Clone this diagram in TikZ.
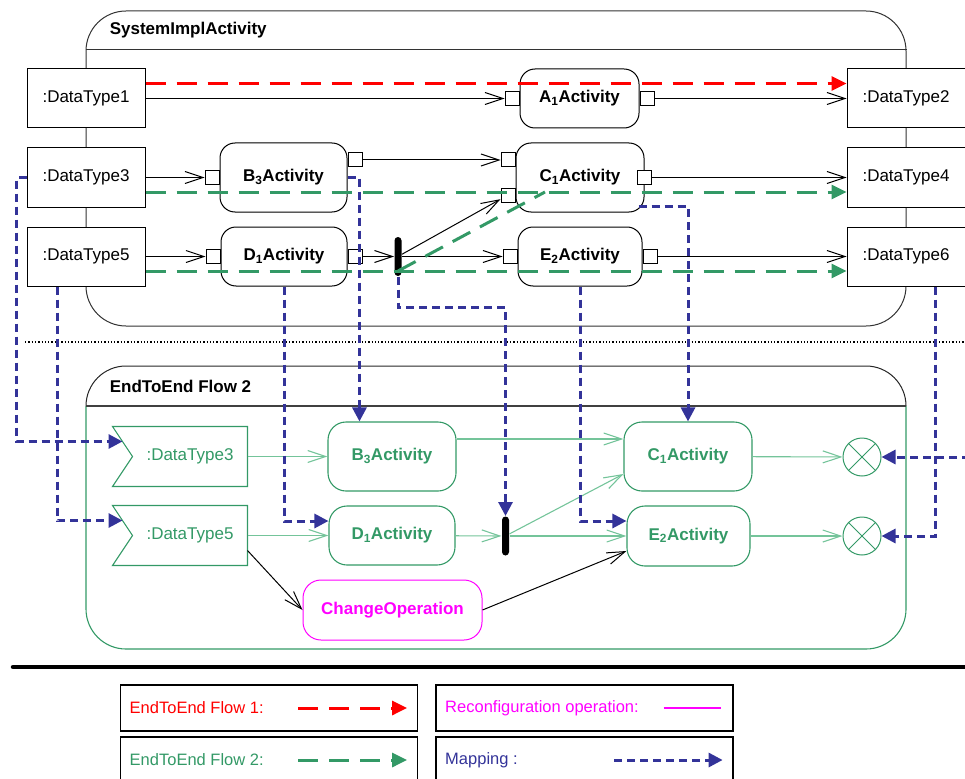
\documentclass[tikz,border=0pt]{standalone}
\usepackage{fontspec}
\setmainfont{Liberation Sans}
\usepackage{tikz}
\usetikzlibrary{arrows.meta,positioning,calc}
\definecolor{flowred}{HTML}{FF0000}
\definecolor{flowgreen}{HTML}{339966}
\definecolor{lightgreen}{HTML}{74C49A}
\definecolor{mapblue}{HTML}{333399}
\definecolor{opmagenta}{HTML}{FF00FF}
\tikzstyle{line} = [draw, -{Straight Barb[length=18pt,width=12pt]}]
\tikzstyle{fline} = [draw=lightgreen, line width=1.1pt, -{Straight Barb[length=18pt,width=12pt]}]
\tikzstyle{flowone} = [draw=flowred, line width=3pt, dash pattern=on 20pt off 11pt, -{Triangle[length=15pt,width=14pt]}]
\tikzstyle{flowtwo} = [draw=flowgreen, line width=3pt, dash pattern=on 20pt off 11pt, -{Triangle[length=15pt,width=14pt]}]
\tikzstyle{map} = [draw=mapblue, line width=3pt, dash pattern=on 8pt off 5pt, -{Triangle[length=14pt,width=14pt]}]
\tikzstyle{dtbox} = [draw, rectangle, fill=white, minimum width=118, minimum height=59]
\tikzstyle{act} = [draw, rectangle, rounded corners=15pt, fill=white, font=\fontsize{17}{20}\selectfont\bfseries]
\tikzstyle{pinbox} = [draw, rectangle, fill=white, minimum size=14, inner sep=0pt]
\tikzstyle{forkbar} = [fill=black, rectangle, rounded corners=3.5pt, minimum width=7, minimum height=39, inner sep=0pt]
\tikzstyle{lact} = [draw=flowgreen, text=flowgreen, rectangle, rounded corners=18pt, line width=1.1pt, font=\fontsize{17}{20}\selectfont\bfseries]
\tikzstyle{ldt} = [text=flowgreen, rectangle, minimum width=134, minimum height=59, inner sep=0pt]
\tikzstyle{final} = [draw=flowgreen, circle, minimum size=38, inner sep=0pt]
\tikzstyle{legbox} = [draw, rectangle, line width=1.2pt, minimum width=297, minimum height=46]
\tikzstyle{legtext} = [anchor=west, font=\fontsize{16.5}{19}\selectfont]

\begin{document}
\begin{tikzpicture}[x=1pt, y=-1pt, line width=1pt, font=\fontsize{17}{20}\selectfont]
    \useasboundingbox (0,0) rectangle (965,778);
    \clip (0,0) rectangle (965,778);

    \node [draw=black!80, rectangle, rounded corners=40pt, minimum width=820, minimum height=315] (sys) at (496,168.5) {};
    \draw [black!80] ([yshift=-39pt]sys.north west) -- ([yshift=-39pt]sys.north east);
    \node [anchor=west, font=\fontsize{17}{20}\selectfont\bfseries] (systitle) at (106,30) {SystemImplActivity};

    \node [dtbox] (dt1) at (86,98.5) {:DataType1};
    \node [dtbox] (dt3) at (86,177.5) {:DataType3};
    \node [dtbox] (dt5) at (86,256.5) {:DataType5};
    \node [dtbox] (dt2) at (906,98.5) {:DataType2};
    \node [dtbox] (dt4) at (906,177.5) {:DataType4};
    \node [dtbox] (dt6) at (906,256.5) {:DataType6};

    \node [act, minimum width=119, minimum height=59] (a1) at (579.5,98.5) {A\textsubscript{1}Activity};
    \node [act, minimum width=127, minimum height=69] (b3) at (283.5,177.5) {B\textsubscript{3}Activity};
    \node [act, minimum width=126, minimum height=59] (d1) at (284,256.5) {D\textsubscript{1}Activity};
    \node [act, minimum width=128, minimum height=69] (c1) at (580,177.5) {C\textsubscript{1}Activity};
    \node [act, minimum width=124, minimum height=59] (e2) at (580,256.5) {E\textsubscript{2}Activity};

    \node [pinbox, left=0pt of a1] (a1i) {};
    \node [pinbox, right=0pt of a1] (a1o) {};
    \node [pinbox, left=0pt of b3] (b3i) {};
    \node [pinbox, anchor=west] (b3o) at ($(b3.east)+(0,-17.5)$) {};
    \node [pinbox, left=0pt of d1] (d1i) {};
    \node [pinbox, right=0pt of d1] (d1o) {};
    \node [pinbox, anchor=east] (c1i1) at ($(c1.west)+(0,-17.5)$) {};
    \node [pinbox, anchor=east] (c1i2) at ($(c1.west)+(0,17.5)$) {};
    \node [pinbox] (c1o) at (c1.east) {};
    \node [pinbox, left=0pt of e2] (e2i) {};
    \node [pinbox, right=0pt of e2] (e2o) {};
    \node [forkbar] (bar1) at (398,256.5) {};

    \path [line] (dt1) -- (a1i);
    \path [line] (a1o) -- (dt2);
    \path [line] (dt3) -- (b3i);
    \path [line] (dt5) -- (d1i);
    \path [line] (b3o) -- (c1i1);
    \path [line] (d1o) -- (bar1);
    \path [line] (bar1) -- (c1i2);
    \path [line] (bar1) -- (e2i);
    \path [line] (c1o) -- (dt4);
    \path [line] (e2o) -- (dt6);

    \path [flowone] ([yshift=15pt]dt1.east) -- ([yshift=15pt]dt2.west);
    \path [flowtwo] ([yshift=-14.5pt]dt3.east) -- ([yshift=-14.5pt]dt4.west);
    \path [flowtwo] ([yshift=-14.5pt]dt5.east) -- ([yshift=-14.5pt]dt6.west);
    \coordinate (gjoin) at (545,192);
    \draw [flowgreen, line width=3pt, dash pattern=on 20pt off 11pt] ([yshift=-14.5pt]bar1.center) -- (gjoin);

    \draw [dash pattern=on 1.3pt off 2pt, line width=1.2pt] (25,342) -- (965,342);

    \draw [black!85, rounded corners=40pt] (86,406) -- (86,366) -- (906,366) -- (906,406);
    \draw [flowgreen, rounded corners=40pt, line width=1.1pt] (86,406) -- (86,649) -- (906,649) -- (906,406);
    \draw [black!75, line width=1.3pt] (86,406) -- (906,406);
    \node [anchor=west, font=\fontsize{17}{20}\selectfont\bfseries] (e2etitle) at (106,386) {EndToEnd Flow 2};

    \node [ldt] (ldt3) at (180,456.5) {\hspace*{20pt}:DataType3};
    \node [ldt] (ldt5) at (180,535.5) {\hspace*{20pt}:DataType5};
    \draw [flowgreen, line width=1.1pt] (ldt3.north west) -- (ldt3.north east) -- (ldt3.south east) -- (ldt3.south west) -- ([xshift=20pt]ldt3.west) -- cycle;
    \draw [flowgreen, line width=1.1pt] (ldt5.north west) -- (ldt5.north east) -- (ldt5.south east) -- (ldt5.south west) -- ([xshift=20pt]ldt5.west) -- cycle;
    \coordinate (ldt3in) at ($(ldt3.north west)!0.5!([xshift=20pt]ldt3.west)$);
    \coordinate (ldt5in) at ($(ldt5.north west)!0.5!([xshift=20pt]ldt5.west)$);

    \node [lact, minimum width=128, minimum height=69] (lb3) at (392,456.5) {B\textsubscript{3}Activity};
    \node [lact, minimum width=126, minimum height=59] (ld1) at (392,535.5) {D\textsubscript{1}Activity};
    \node [lact, minimum width=128, minimum height=69] (lc1) at (688,456.5) {C\textsubscript{1}Activity};
    \node [lact, minimum width=123, minimum height=60] (le2) at (688.5,536) {E\textsubscript{2}Activity};
    \node [draw=opmagenta, text=opmagenta, rectangle, rounded corners=18pt, minimum width=179, minimum height=60, font=\fontsize{17}{20}\selectfont\bfseries] (chg) at (392.5,610) {ChangeOperation};
    \node [forkbar] (bar2) at (505.5,536) {};
    \node [final] (fin1) at (862,457) {};
    \node [final] (fin2) at (862,536) {};
    \draw [flowgreen] (fin1.north west) -- (fin1.south east) (fin1.north east) -- (fin1.south west);
    \draw [flowgreen] (fin2.north west) -- (fin2.south east) (fin2.north east) -- (fin2.south west);

    \path [fline] (ldt3) -- (lb3);
    \path [fline] (ldt5) -- (ld1);
    \path [fline] ([yshift=17.5pt]lb3.east) -- ([yshift=17.5pt]lc1.west);
    \path [fline] (ld1) -- (bar2);
    \path [fline] (bar2) -- ([yshift=-17.5pt]lc1.west);
    \path [fline] (bar2) -- (le2);
    \path [fline] (lc1) -- (fin1);
    \path [fline] (le2) -- (fin2);
    \path [line] ([yshift=15pt]ldt5.south east) -- (chg.west);
    \path [line] (chg.east) -- ([yshift=-15pt]le2.west);

    \path [map] (dt3.west) -- ++(-10,0) |- (ldt3in);
    \path [map] ($(dt5.south)+(-29,0)$) |- (ldt5in);
    \path [map] (b3.east) -| ($(lb3.north west)+(32,0)$);
    \path [map] (d1.south) |- ([yshift=14.5pt]ld1.west);
    \path [map] (bar1.south) -- ++(0,31) -| (bar2.north);
    \path [map] (e2.south) |- ([yshift=15pt]le2.west);
    \path [map] ($(c1.south east)+(-6,-6)$) -| (lc1.north);
    \path [map] ($(dt6.south)+(29.5,0)$) |- (fin2);
    \path [map] (dt4.east) -- ++(12,0) |- (fin1);

    \draw [line width=4.5pt, line cap=round] (13,667) -- (975,667);

    \node [legbox] (key1) at (269,708) {};
    \node [legbox] (key2) at (584.5,708) {};
    \node [legbox] (key3) at (269,760) {};
    \node [legbox] (key4) at (584.5,760) {};
    \node [legtext, text=flowred] (key1txt) at ([xshift=6pt]key1.west) {EndToEnd Flow 1:};
    \node [legtext, text=opmagenta] (key2txt) at ([xshift=6pt]key2.west) {Reconfiguration operation:};
    \node [legtext, text=flowgreen] (key3txt) at ([xshift=6pt]key3.west) {EndToEnd Flow 2:};
    \node [legtext, text=mapblue] (key4txt) at ([xshift=6pt]key4.west) {Mapping :};
    \path [flowone] ([xshift=-120pt]key1.east) -- ([xshift=-11pt]key1.east);
    \draw [opmagenta, line width=1.3pt] ([xshift=-70pt]key2.east) -- ([xshift=-13pt]key2.east);
    \path [flowtwo] ([xshift=-120pt]key3.east) -- ([xshift=-11pt]key3.east);
    \path [map] ([xshift=-119.5pt]key4.east) -- ([xshift=-11pt]key4.east);
\end{tikzpicture}
\end{document}
